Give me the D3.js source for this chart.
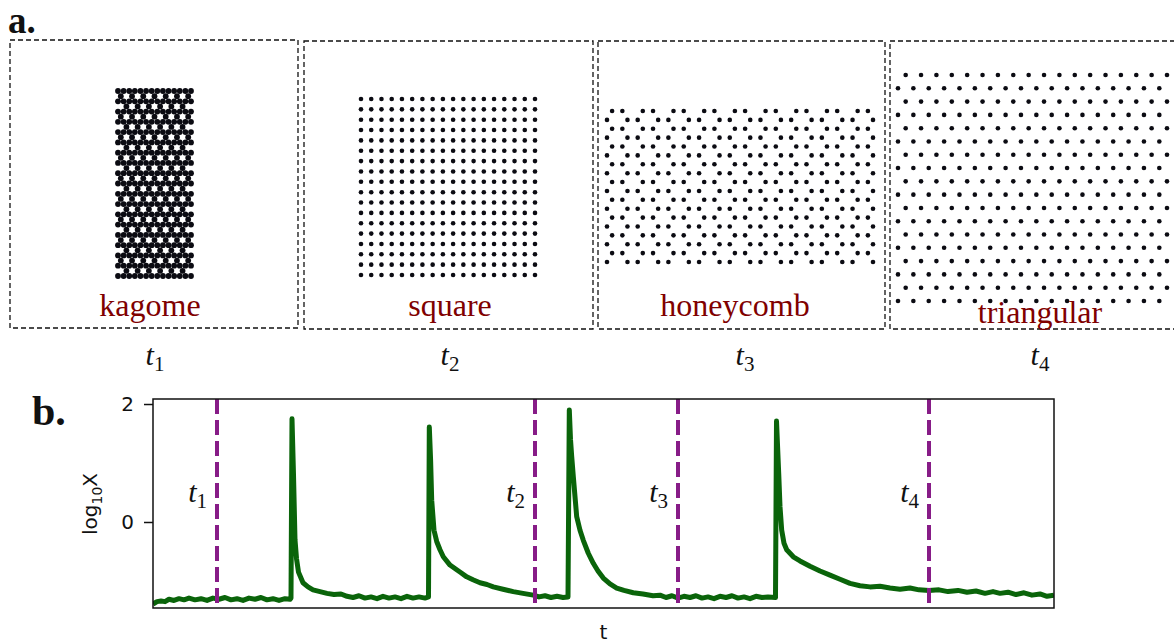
<!DOCTYPE html>
<html>
<head>
<meta charset="utf-8">
<title>lattice switching</title>
<script src="https://d3js.org/d3.v7.min.js"></script>
<style>body{margin:0;background:#fff;}</style>
</head>
<body>
<script>
// panel a: one snapshot per lattice
var latticeNames = ["kagome", "square", "honeycomb", "triangular"];
var timeMarks = ["1", "2", "3", "4"];
// rows / columns counted in the snapshots
var latticeRows = [37, 18, 18, 18];
var latticeCols = [14, 18, 18, 18];

// panel b: log10 X against t
var tValues = [0, 4, 8, 12, 16, 21, 26, 31, 36, 42, 48, 54, 60, 66, 72, 78, 84, 90, 96, 102, 108, 114, 120, 126, 132, 137,
  138, 139, 140.5, 142, 143.5, 145.5, 150, 155, 160, 167, 174, 181, 188, 194, 200, 206, 212, 218, 224, 230, 236, 242, 248, 254, 260, 266, 272,
  275.5, 276.3, 277.6, 278.7, 281, 283.7, 287, 290.3, 297, 303.7, 308, 313.7, 320, 327, 334, 340.3, 350, 360.3, 370, 380.3, 386, 392, 398, 404, 410,
  415, 416.3, 417.5, 418.7, 420.3, 423.7, 427, 430.3, 435.3, 440.3, 445, 450.3, 457, 463.7, 471, 480.3, 490, 500, 507, 513, 519, 525, 531, 537, 543,
  549, 555, 561, 567, 573, 579, 585, 591, 597, 603, 609, 615,
  622.5, 623.5, 625.7, 627, 628.7, 631, 633.7, 640.3, 647, 657, 667, 677, 687, 697, 707, 717, 727, 737, 747, 757, 766, 776, 786, 795, 805, 814,
  823, 832, 840, 847, 855, 863, 871, 879, 887, 894, 901];
var logX = [-1.39, -1.35, -1.34, -1.35, -1.31, -1.33, -1.30, -1.32, -1.29, -1.32, -1.30, -1.33, -1.29, -1.31, -1.28, -1.32, -1.30, -1.33, -1.29, -1.31, -1.28, -1.32, -1.30, -1.33, -1.30, -1.31,
  -1.29, 1.75, 0.80, -0.30, -0.62, -0.85, -1.03, -1.10, -1.15, -1.18, -1.21, -1.23, -1.22, -1.26, -1.28, -1.25, -1.29, -1.27, -1.30, -1.26, -1.29, -1.27, -1.30, -1.26, -1.29, -1.27, -1.29,
  -1.27, 1.61, 1.05, 0.37, -0.14, -0.33, -0.47, -0.59, -0.73, -0.81, -0.86, -0.93, -0.98, -1.03, -1.06, -1.10, -1.14, -1.18, -1.21, -1.24, -1.27, -1.25, -1.28, -1.26, -1.28,
  -1.27, 1.90, 1.40, 1.11, 0.77, 0.09, -0.14, -0.31, -0.53, -0.70, -0.83, -0.95, -1.05, -1.12, -1.16, -1.20, -1.22, -1.25, -1.24, -1.28, -1.25, -1.29, -1.26, -1.28, -1.25,
  -1.29, -1.27, -1.30, -1.26, -1.28, -1.25, -1.29, -1.27, -1.30, -1.26, -1.28, -1.27,
  -1.28, 1.71, 0.83, 0.26, -0.14, -0.36, -0.47, -0.59, -0.66, -0.75, -0.83, -0.90, -0.97, -1.04, -1.08, -1.10, -1.09, -1.12, -1.14, -1.12, -1.15, -1.16, -1.15, -1.18, -1.16, -1.19,
  -1.17, -1.21, -1.18, -1.21, -1.19, -1.23, -1.20, -1.24, -1.22, -1.26, -1.24];
var markTimes = [64, 382, 525, 776];
var yTicks = [0, 2];

var W = 1174, H = 643;
var svg = d3.select("body").append("svg").attr("width", W).attr("height", H);

var serif = "'Liberation Serif', 'DejaVu Serif', serif";
var sans = "'DejaVu Sans', sans-serif";

// lattice sites in units of the nearest neighbour distance
function latticeSites(type, rows, cols) {
  var pts = [], h = Math.sqrt(3) / 2;
  for (var r = 0; r < rows; r++) {
    if (type == "square") {
      for (var c = 0; c < cols; c++) pts.push([c, r]);
    } else if (type == "triangular") {
      for (var c = 0; c < cols; c++) pts.push([c + (r % 2 == 0 ? 0.5 : 0), r * h]);
    } else if (type == "honeycomb") {
      var off = r % 2 == 0 ? 0 : 1.5;
      for (var p = -1; p <= cols / 2; p++) {
        [off + 3 * p, off + 3 * p + 1].forEach(function(x) {
          if (x >= -0.6 && x <= 3 * (cols / 2 - 1) + 1.6) pts.push([x, r * h]);
        });
      }
    } else { // kagome
      if (r % 2 == 0) {
        for (var c = 0; c < cols; c++) pts.push([c, r * h]);
      } else {
        var o = Math.floor(r / 2) % 2 == 0 ? 0.5 : 1.5;
        for (var x = o; x <= cols - 1; x += 2) pts.push([x, r * h]);
      }
    }
  }
  return pts;
}

// panel layout
var boxes = [[10, 40, 288, 288], [304, 41, 289, 288], [598, 41, 287, 288], [890, 41, 300, 288]];
var dotArea = [[118, 191, 91, 276], [361, 535, 99, 275], [607, 873, 111, 262], [898, 1167, 75, 301]];
var dotR = [2.9, 2.3, 2.3, 2.3];
var labelX = [150, 450, 735, 1040], labelY = [316, 316, 316, 323];
var markX = [155, 450, 745, 1040];

latticeNames.forEach(function(name, i) {
  var g = svg.append("g");
  var b = boxes[i];
  g.append("rect").attr("x", b[0]).attr("y", b[1]).attr("width", b[2]).attr("height", b[3])
    .attr("fill", "none").attr("stroke", "#111").attr("stroke-width", 1.3).attr("stroke-dasharray", "5,3");

  var pts = latticeSites(name, latticeRows[i], latticeCols[i]);
  var a = dotArea[i];
  var sx = d3.scaleLinear().domain(d3.extent(pts, function(d) { return d[0]; })).range([a[0], a[1]]);
  var sy = d3.scaleLinear().domain(d3.extent(pts, function(d) { return d[1]; })).range([a[2], a[3]]);
  g.selectAll("circle").data(pts).enter().append("circle")
    .attr("cx", function(d) { return sx(d[0]); })
    .attr("cy", function(d) { return sy(d[1]); })
    .attr("r", dotR[i])
    .attr("fill", "#0b0b12");

  g.append("text").attr("x", labelX[i]).attr("y", labelY[i]).attr("text-anchor", "middle")
    .attr("font-family", serif).attr("font-size", 32).attr("fill", "#800000").text(name);

  var t = svg.append("text").attr("x", markX[i]).attr("y", 365).attr("text-anchor", "middle")
    .attr("font-family", serif).attr("font-style", "italic").attr("font-size", 30).attr("fill", "#111");
  t.append("tspan").text("t");
  t.append("tspan").attr("font-style", "normal").attr("font-size", 21).attr("dy", 6).text(timeMarks[i]);
});

svg.append("text").attr("x", 8).attr("y", 33).attr("font-family", serif).attr("font-weight", "bold")
  .attr("font-size", 37).attr("fill", "#111").text("a.");
svg.append("text").attr("x", 32).attr("y", 425).attr("font-family", serif).attr("font-weight", "bold")
  .attr("font-size", 42).attr("fill", "#111").text("b.");

// panel b
var plotL = 153, plotR = 1054, plotT = 399, plotB = 608;
var x = d3.scaleLinear().domain([0, 901]).range([plotL, plotR]);
var y = d3.scaleLinear().domain([-1.458, 2.085]).range([plotB, plotT]);

svg.append("clipPath").attr("id", "plotclip").append("rect")
  .attr("x", plotL).attr("y", plotT).attr("width", plotR - plotL).attr("height", plotB - plotT);

var series = tValues.map(function(t, i) { return [t, logX[i]]; });
var line = d3.line().x(function(d) { return x(d[0]); }).y(function(d) { return y(d[1]); });

svg.append("path").datum(series).attr("clip-path", "url(#plotclip)")
  .attr("d", line).attr("fill", "none").attr("stroke", "#0a640a")
  .attr("stroke-width", 5).attr("stroke-linejoin", "round");

svg.selectAll(".mark").data(markTimes).enter().append("line").attr("class", "mark")
  .attr("x1", function(d) { return x(d); }).attr("x2", function(d) { return x(d); })
  .attr("y1", plotT).attr("y2", plotB)
  .attr("stroke", "#871c87").attr("stroke-width", 4).attr("stroke-dasharray", "15,6");

markTimes.forEach(function(m, i) {
  var t = svg.append("text").attr("x", x(m) - 10).attr("y", 502).attr("text-anchor", "end")
    .attr("font-family", serif).attr("font-style", "italic").attr("font-size", 30).attr("fill", "#111");
  t.append("tspan").text("t");
  t.append("tspan").attr("font-style", "normal").attr("font-size", 21).attr("dy", 6).text(timeMarks[i]);
});

svg.append("rect").attr("x", plotL).attr("y", plotT).attr("width", plotR - plotL).attr("height", plotB - plotT)
  .attr("fill", "none").attr("stroke", "#111").attr("stroke-width", 1.5);

var yAxis = svg.append("g").attr("transform", "translate(" + plotL + ",0)")
  .call(d3.axisLeft(y).tickValues(yTicks).tickSize(9).tickPadding(10).tickFormat(d3.format("d")));
yAxis.select(".domain").remove();
yAxis.selectAll("line").attr("stroke", "#111").attr("stroke-width", 1.5);
yAxis.selectAll("text").attr("font-family", sans).attr("font-size", 20).attr("fill", "#111");

var yl = svg.append("text").attr("transform", "translate(97,504) rotate(-90)").attr("text-anchor", "middle")
  .attr("font-family", sans).attr("font-size", 20).attr("fill", "#111");
yl.append("tspan").text("log");
yl.append("tspan").attr("font-size", 14).attr("dy", 5).text("10");
yl.append("tspan").attr("dy", -5).text("X");

svg.append("text").attr("x", (plotL + plotR) / 2).attr("y", 639).attr("text-anchor", "middle")
  .attr("font-family", sans).attr("font-size", 20).attr("fill", "#111").text("t");
</script>
</body>
</html>
